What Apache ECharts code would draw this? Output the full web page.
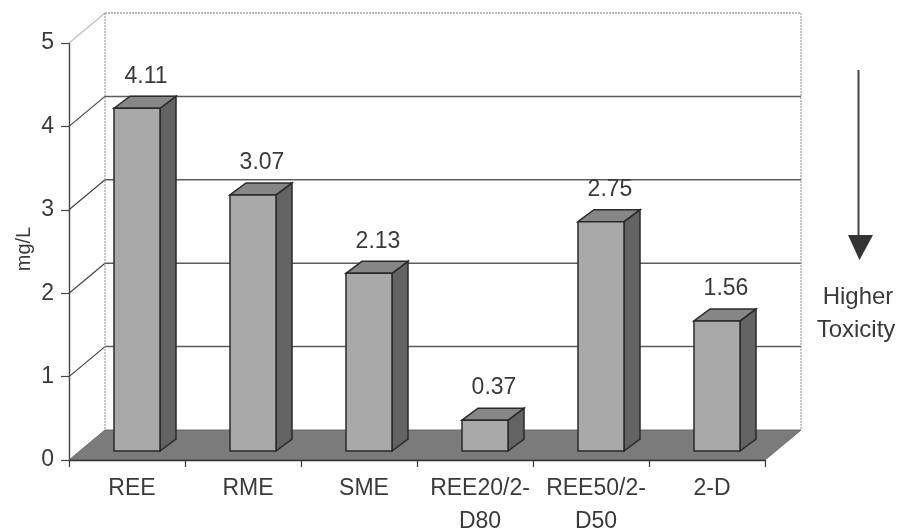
<!DOCTYPE html>
<html>
<head>
<meta charset="utf-8">
<style>html,body{margin:0;padding:0;background:#fff}#chart{width:899px;height:530px}</style>
<script src="https://cdn.jsdelivr.net/npm/echarts@6/dist/echarts.min.js"></script>
</head>
<body>
<div id="chart"></div>
<script>
const categories = ['REE', 'RME', 'SME', 'REE20/2-\nD80', 'REE50/2-\nD50', '2-D'];
const toxicity = [4.11, 3.07, 2.13, 0.37, 2.75, 1.56];
const valueTicks = [0, 1, 2, 3, 4, 5];

// Oblique projection of the plot box
const BOX_DX = 36, BOX_DY = -30;
const BAR_DX = 10, BAR_DY = -9;
const BAR_WIDTH = 46;
const BAR_DEPTH_X = 16, BAR_DEPTH_Y = -12;
const FONT = '"Liberation Sans", Arial, sans-serif';
const INK = '#3a3a3a';

const chart = echarts.init(document.getElementById('chart'));

function renderWalls(params, api) {
  const tick = api.value(1);
  const box = params.coordSys;
  const y = api.coord([0, tick])[1];
  const left = box.x, right = box.x + box.width;
  const isTop = tick === valueTicks[valueTicks.length - 1];
  const children = [];
  if (tick > 0) {
    children.push({
      type: 'polyline',
      shape: { points: [[left, y], [left + BOX_DX, y + BOX_DY]] },
      style: { fill: 'none', stroke: isTop ? '#bdbdbd' : '#444', lineWidth: 1.2 }
    }, {
      type: 'line',
      shape: { x1: left + BOX_DX, y1: y + BOX_DY, x2: right + BOX_DX, y2: y + BOX_DY },
      style: isTop
        ? { stroke: '#777', lineWidth: 1, lineDash: [2, 1] }
        : { stroke: '#5c5c5c', lineWidth: 1.5 }
    });
  }
  if (isTop) {
    const floorY = api.coord([0, valueTicks[0]])[1] + BOX_DY;
    [left + BOX_DX, right + BOX_DX].forEach(function (x) {
      children.push({
        type: 'line',
        shape: { x1: x, y1: y + BOX_DY, x2: x, y2: floorY },
        style: { stroke: '#8a8a8a', lineWidth: 1, lineDash: [2, 1] }
      });
    });
  }
  if (tick === valueTicks[0]) {
    children.push({
      type: 'polygon',
      shape: { points: [
        [left, y], [left + BOX_DX, y + BOX_DY],
        [right + BOX_DX, y + BOX_DY], [right, y]
      ] },
      style: { fill: '#7b7b7b', stroke: '#6a6a6a', lineWidth: 1 },
      z2: 5
    });
  }
  return { type: 'group', children: children };
}

function renderBar(params, api) {
  const idx = api.value(0), val = api.value(1);
  const top = api.coord([idx, val]);
  const base = api.coord([idx, 0]);
  const x0 = top[0] + BAR_DX - BAR_WIDTH / 2;
  const x1 = x0 + BAR_WIDTH;
  const yTop = top[1] + BAR_DY, yBase = base[1] + BAR_DY;
  const dx = BAR_DEPTH_X, dy = BAR_DEPTH_Y;
  const edge = { stroke: '#2a2a2a', lineWidth: 1.5, lineJoin: 'miter' };
  return {
    type: 'group',
    children: [
      { type: 'polygon',
        shape: { points: [[x1, yBase], [x1 + dx, yBase + dy], [x1 + dx, yTop + dy], [x1, yTop]] },
        style: Object.assign({ fill: '#636363' }, edge) },
      { type: 'polygon',
        shape: { points: [[x0, yTop], [x0 + dx, yTop + dy], [x1 + dx, yTop + dy], [x1, yTop]] },
        style: Object.assign({ fill: '#868686' }, edge) },
      { type: 'rect',
        shape: { x: x0, y: yTop, width: BAR_WIDTH, height: yBase - yTop },
        style: Object.assign({ fill: '#a9a9a9' }, edge) },
      { type: 'text',
        style: {
          text: val.toFixed(2),
          x: (x0 + x1 + dx) / 2 + 1,
          y: yTop + dy - 20,
          textAlign: 'center',
          textVerticalAlign: 'middle',
          font: '23px ' + FONT,
          fill: INK
        } }
    ]
  };
}

chart.setOption({
  animation: false,
  backgroundColor: '#fff',
  grid: { left: 69, top: 43, width: 696, height: 417, containLabel: false, outerBoundsMode: 'none' },
  xAxis: {
    type: 'category',
    data: categories,
    z: 6,
    axisLine: { lineStyle: { color: '#333', width: 1.4 } },
    axisTick: { show: true, length: 7, alignWithLabel: false, lineStyle: { color: '#333', width: 1.2 } },
    axisLabel: {
      color: INK, fontFamily: FONT, fontSize: 23, lineHeight: 33,
      margin: 12, interval: 0, padding: [0, 0, 0, 10]
    },
    splitLine: { show: false }
  },
  yAxis: {
    type: 'value',
    min: 0, max: 5, interval: 1,
    axisLine: { show: true, lineStyle: { color: '#444', width: 1.4 } },
    axisTick: { show: true, length: 8, lineStyle: { color: '#444', width: 1.2 } },
    axisLabel: { color: INK, fontFamily: FONT, fontSize: 23, margin: 15 },
    splitLine: { show: false }
  },
  series: [
    {
      type: 'custom',
      z: 1,
      silent: true,
      data: valueTicks.map(function (t) { return [0, t]; }),
      encode: { x: 0, y: 1 },
      renderItem: renderWalls
    },
    {
      type: 'custom',
      z: 3,
      silent: true,
      data: toxicity.map(function (v, i) { return [i, v]; }),
      encode: { x: 0, y: 1 },
      renderItem: renderBar
    }
  ],
  graphic: [
    { type: 'text', x: 24, y: 249, rotation: Math.PI / 2, style: { text: 'mg/L', textAlign: 'center', textVerticalAlign: 'middle', font: '20px ' + FONT, fill: INK } },
    { type: 'line', shape: { x1: 858.5, y1: 70, x2: 858.5, y2: 238 }, style: { stroke: '#444', lineWidth: 2 } },
    { type: 'polygon', shape: { points: [[848, 235], [873, 235], [859.5, 260]] }, style: { fill: '#333' } },
    { type: 'text', style: { text: 'Higher', x: 858, y: 297, textAlign: 'center', textVerticalAlign: 'middle', font: '24px ' + FONT, fill: INK } },
    { type: 'text', style: { text: 'Toxicity', x: 856, y: 330, textAlign: 'center', textVerticalAlign: 'middle', font: '24px ' + FONT, fill: INK } }
  ]
});
</script>
</body>
</html>
